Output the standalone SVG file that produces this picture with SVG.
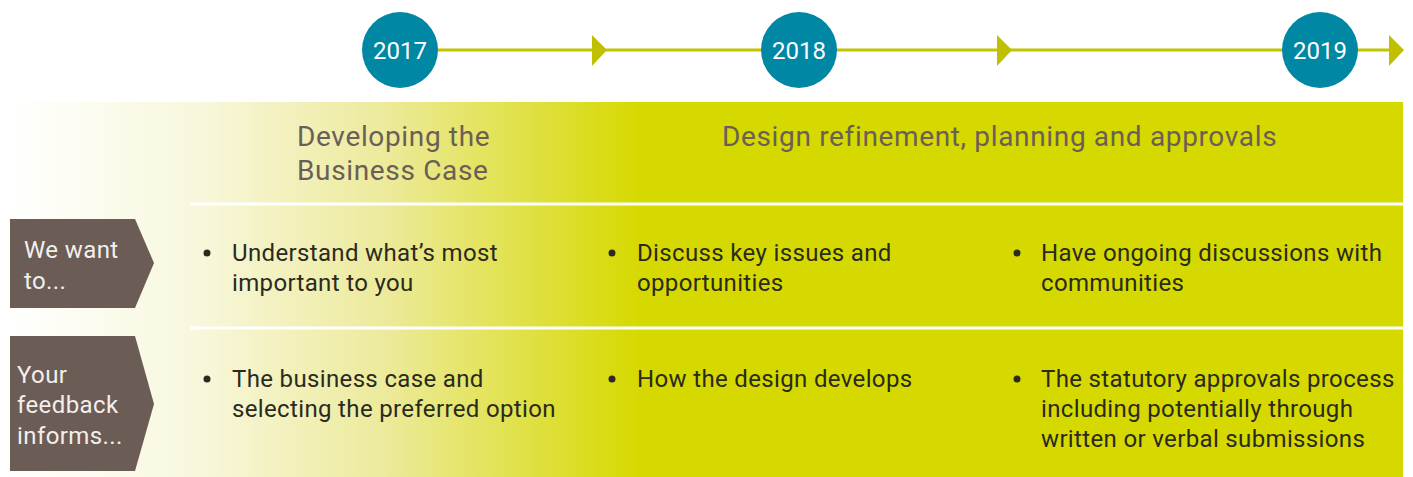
<svg xmlns="http://www.w3.org/2000/svg" width="1413" height="477" viewBox="0 0 1413 477">
<defs>
<linearGradient id="band" gradientUnits="userSpaceOnUse" x1="8" y1="0" x2="640" y2="0">
<stop offset="0" stop-color="#ffffff"/>
<stop offset="0.3" stop-color="#f8f7dc"/>
<stop offset="0.6" stop-color="#ecea9a"/>
<stop offset="1" stop-color="#d6d900"/>
</linearGradient>
<style>
.yr{fill:#0087a4}
.yrt{fill:#ffffff;font-family:Roboto,"Liberation Sans",sans-serif;font-size:24px;text-anchor:middle}
.tl{stroke:#c2c400;stroke-width:3;fill:none}
.ar{fill:#bfc100}
.ttl{fill:#6b5e57;font-family:Roboto,"Liberation Sans",sans-serif;font-size:28px;letter-spacing:0.65px}
.tag{fill:#6b5c55}
.tagt{fill:#f3efeb;font-family:Roboto,"Liberation Sans",sans-serif;font-size:24px;letter-spacing:0.4px}
.bt{fill:#2a2a1e;font-family:Roboto,"Liberation Sans",sans-serif;font-size:24px;letter-spacing:0.35px}
.dot{fill:#2a2a1e}
.sep{stroke:#ffffff;stroke-width:3}
</style>
</defs>
<rect x="8" y="102" width="1395" height="375" fill="url(#band)"/>
<g id="separators">
<line class="sep" x1="190" y1="204" x2="1403" y2="204"/>
<line class="sep" x1="190" y1="328" x2="1403" y2="328"/>
</g>
<g id="connectors">
<line class="tl" x1="438" y1="50" x2="1398" y2="50"/>
<polygon class="ar" points="592,35 607,50 592,66"/>
<polygon class="ar" points="997,35 1012,50 997,66"/>
<polygon class="ar" points="1389,35 1404,50 1389,66"/>
</g>
<g id="y2017"><circle class="yr" cx="400" cy="50" r="38"/><text class="yrt" x="400" y="59">2017</text></g>
<g id="y2018"><circle class="yr" cx="799" cy="50" r="38"/><text class="yrt" x="799" y="59">2018</text></g>
<g id="y2019"><circle class="yr" cx="1320" cy="50" r="38"/><text class="yrt" x="1320" y="59">2019</text></g>
<g id="phase1"><text class="ttl" x="297" y="146">Developing the</text><text class="ttl" x="297" y="180">Business Case</text></g>
<g id="phase2"><text class="ttl" x="722" y="146">Design refinement, planning and approvals</text></g>
<g id="tag1"><polygon class="tag" points="10,219 135,219 154,263 135,308 10,308"/><text class="tagt" x="24" y="258">We want</text><text class="tagt" x="24" y="289">to...</text></g>
<g id="tag2"><polygon class="tag" points="10,336 135,336 154,404 135,471 10,471"/><text class="tagt" x="17" y="383">Your</text><text class="tagt" x="17" y="413">feedback</text><text class="tagt" x="17" y="444">informs...</text></g>
<g id="r1c1"><circle class="dot" cx="207" cy="253" r="3.5"/><text class="bt" x="232" y="261">Understand what’s most</text><text class="bt" x="232" y="291">important to you</text></g>
<g id="r1c2"><circle class="dot" cx="612" cy="253" r="3.5"/><text class="bt" x="637" y="261">Discuss key issues and</text><text class="bt" x="637" y="291">opportunities</text></g>
<g id="r1c3"><circle class="dot" cx="1017" cy="253" r="3.5"/><text class="bt" x="1041" y="261">Have ongoing discussions with</text><text class="bt" x="1041" y="291">communities</text></g>
<g id="r2c1"><circle class="dot" cx="207" cy="379" r="3.5"/><text class="bt" x="232" y="387">The business case and</text><text class="bt" x="232" y="417">selecting the preferred option</text></g>
<g id="r2c2"><circle class="dot" cx="612" cy="379" r="3.5"/><text class="bt" x="637" y="387">How the design develops</text></g>
<g id="r2c3"><circle class="dot" cx="1017" cy="379" r="3.5"/><text class="bt" x="1041" y="387">The statutory approvals process</text><text class="bt" x="1041" y="417">including potentially through</text><text class="bt" x="1041" y="447">written or verbal submissions</text></g>
</svg>
